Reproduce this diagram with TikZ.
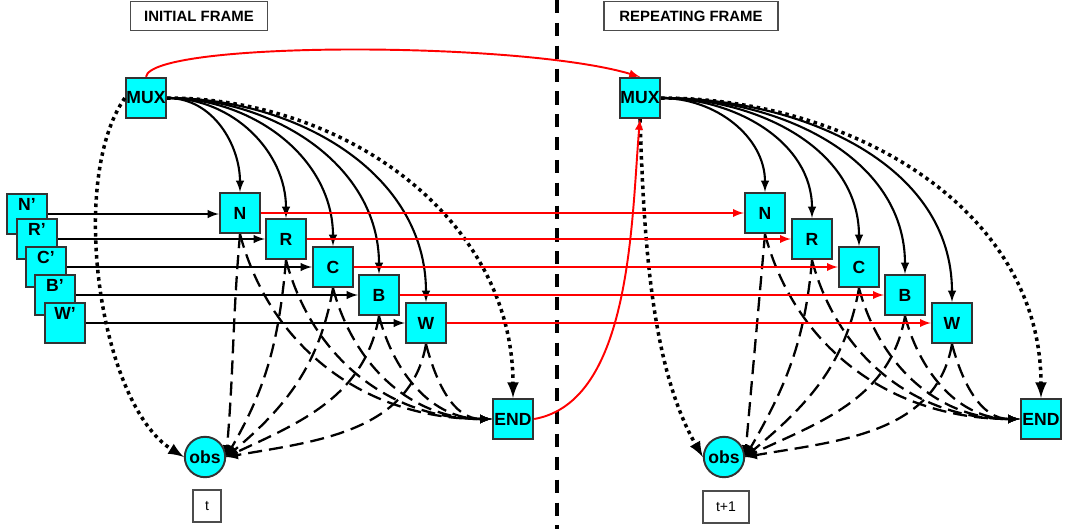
\documentclass[tikz,border=0pt]{standalone}
\usepackage{fontspec}
\setmainfont{Liberation Sans}
\usepackage{tikz}
\usetikzlibrary{arrows}
\definecolor{var-cyan}{RGB}{0,255,255}
\definecolor{link-red}{RGB}{255,0,0}
\tikzset{
  var/.style={draw=black!80, line width=1.1pt, fill=var-cyan, minimum size=23pt, inner sep=0pt, font=\fontsize{10}{12}\selectfont\bfseries},
  obsvar/.style={var, circle},
  framebox/.style={draw=black!70, line width=0.8pt, fill=white, minimum height=16.4pt, inner sep=0pt, font=\fontsize{8.5}{10}\selectfont\bfseries},
  timebox/.style={draw=black!70, line width=0.8pt, fill=white, minimum height=18pt, inner sep=0pt, font=\fontsize{8}{10}\selectfont},
  link/.style={-latex, line width=1.2pt},
  hidden/.style={-latex, line width=1.3pt, dash pattern=on 8pt off 4pt},
  ctrl/.style={-latex, line width=2pt, dash pattern=on 2pt off 2.2pt},
  temporal/.style={-latex, line width=1.1pt, link-red},
  divider/.style={line width=2.2pt, dash pattern=on 7.5pt off 5.5pt}
}
\begin{document}
\begin{tikzpicture}[x=0.02cm, y=0.02cm]%DBN unrolled over two frames
\useasboundingbox (0,0) rectangle (1066,-529);
\draw[divider] (557,0) -- (557,-529);
  \node[framebox, minimum width=78pt] (titleA) at (199,-16) {INITIAL FRAME};
  \node[framebox, minimum width=99pt] (titleB) at (691,-16) {REPEATING FRAME};
% initial frame
  \node[var] (muxA) at (146,-98) {MUX};
  \node[var] (Np) at (27,-214) {\raisebox{2pt}[0pt][0pt]{N’}};
  \node[var] (Rp) at (37,-239) {\raisebox{2pt}[0pt][0pt]{R’}};
  \node[var] (Cp) at (46,-267) {\raisebox{2pt}[0pt][0pt]{C’}};
  \node[var] (Bp) at (55,-295) {\raisebox{2pt}[0pt][0pt]{B’}};
  \node[var] (Wp) at (65,-323) {\raisebox{2pt}[0pt][0pt]{W’}};
  \node[var] (nA) at (240,-213) {N};
  \node[var] (rA) at (286,-239) {R};
  \node[var] (cA) at (333,-267) {C};
  \node[var] (bA) at (379,-295) {B};
  \node[var] (wA) at (426,-323) {W};
  \node[var] (endA) at (513,-419) {END};
  \node[obsvar] (obsA) at (205,-457) {obs};
  \node[timebox, minimum width=16pt] (tA) at (207,-506) {t};
% repeating frame
  \node[var] (muxB) at (640,-98) {MUX};
  \node[var] (nB) at (765,-213) {N};
  \node[var] (rB) at (812,-239) {R};
  \node[var] (cB) at (859,-267) {C};
  \node[var] (bB) at (905,-295) {B};
  \node[var] (wB) at (952,-323) {W};
  \node[var] (endB) at (1041,-419) {END};
  \node[obsvar] (obsB) at (724,-457) {obs};
  \node[timebox, minimum width=26pt] (tB) at (726,-507) {t+1};
% inputs of the initial frame
\draw[link] (Np.east) -- (Np.east -| nA.west);
\draw[link] (Rp.east) -- (Rp.east -| rA.west);
\draw[link] (Cp.east) -- (Cp.east -| cA.west);
\draw[link] (Bp.east) -- (Bp.east -| bA.west);
\draw[link] (Wp.east) -- (Wp.east -| wA.west);
% MUX switches
\draw[link] (muxA.east) to[out=0,in=90] (nA.north);
\draw[link] (muxA.east) to[out=0,in=90] (rA.north);
\draw[link] (muxA.east) to[out=0,in=90] (cA.north);
\draw[link] (muxA.east) to[out=0,in=90] (bA.north);
\draw[link] (muxA.east) to[out=0,in=90] (wA.north);
\draw[ctrl] (muxA.east) to[out=0,in=90] (endA.north);
\draw[ctrl] (muxA.west) to[out=235,in=148,looseness=0.7] (obsA.west);
\draw[link] (muxB.east) to[out=0,in=90] (nB.north);
\draw[link] (muxB.east) to[out=0,in=90] (rB.north);
\draw[link] (muxB.east) to[out=0,in=90] (cB.north);
\draw[link] (muxB.east) to[out=0,in=90] (bB.north);
\draw[link] (muxB.east) to[out=0,in=90] (wB.north);
\draw[ctrl] (muxB.east) to[out=0,in=90] (endB.north);
\draw[ctrl] (muxB.south) to[out=-88,in=120,looseness=0.8] (obsB.west);
% observations and end
\draw[hidden] (nA.south) to[out=-95,in=85] (obsA.east);
\draw[hidden] (rA.south) to[out=-95,in=60] (obsA.east);
\draw[hidden] (cA.south) to[out=-100,in=40] (obsA.east);
\draw[hidden] (bA.south) to[out=-100,in=25] (obsA.east);
\draw[hidden] (wA.south) to[out=-100,in=10] (obsA.east);
\draw[hidden] (nA.south) to[out=-75,in=180] (endA.west);
\draw[hidden] (rA.south) to[out=-75,in=180] (endA.west);
\draw[hidden] (cA.south) to[out=-75,in=180] (endA.west);
\draw[hidden] (bA.south) to[out=-75,in=180] (endA.west);
\draw[hidden] (wA.south) to[out=-75,in=180] (endA.west);
\draw[hidden] (nB.south) to[out=-95,in=85] (obsB.east);
\draw[hidden] (rB.south) to[out=-95,in=60] (obsB.east);
\draw[hidden] (cB.south) to[out=-100,in=40] (obsB.east);
\draw[hidden] (bB.south) to[out=-100,in=25] (obsB.east);
\draw[hidden] (wB.south) to[out=-100,in=10] (obsB.east);
\draw[hidden] (nB.south) to[out=-75,in=180] (endB.west);
\draw[hidden] (rB.south) to[out=-75,in=180] (endB.west);
\draw[hidden] (cB.south) to[out=-75,in=180] (endB.west);
\draw[hidden] (bB.south) to[out=-75,in=180] (endB.west);
\draw[hidden] (wB.south) to[out=-75,in=180] (endB.west);
% frame to frame
\draw[temporal] (nA.east) -- (nA.east -| nB.west);
\draw[temporal] (rA.east) -- (rA.east -| rB.west);
\draw[temporal] (cA.east) -- (cA.east -| cB.west);
\draw[temporal] (bA.east) -- (bA.east -| bB.west);
\draw[temporal] (wA.east) -- (wA.east -| wB.west);
\draw[temporal] (muxA.north) .. controls +(5,36) and +(-120,36) .. (muxB.north);
\draw[temporal] (endA.east) to[out=10,in=-95,looseness=0.8] (muxB.south);
\end{tikzpicture}
\end{document}
